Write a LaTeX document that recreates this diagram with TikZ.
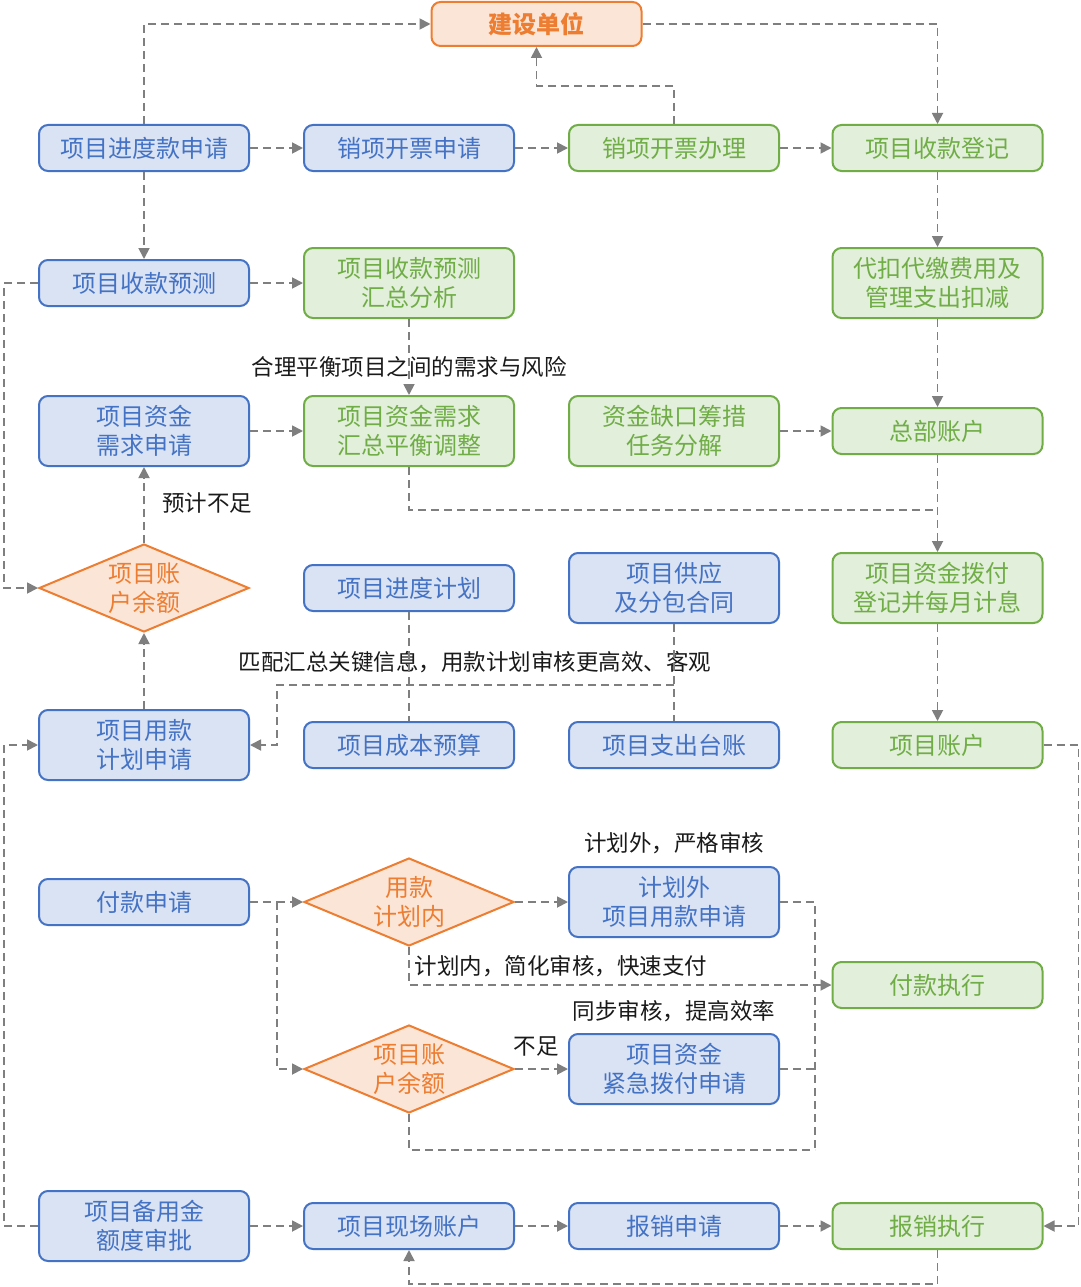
\documentclass[tikz,border=0pt]{standalone}
\usepackage{fontspec}
\setmainfont{Noto Sans CJK SC}
\usetikzlibrary{shapes.geometric,arrows.meta,calc}
\definecolor{bline}{HTML}{4472C4}
\definecolor{bfill}{HTML}{DAE3F3}
\definecolor{gline}{HTML}{70AD47}
\definecolor{gfill}{HTML}{E2EFDA}
\definecolor{oline}{HTML}{ED7D31}
\definecolor{ofill}{HTML}{FBE5D6}
\definecolor{agray}{HTML}{7F7F7F}
\definecolor{ltext}{HTML}{1A1A1A}
\tikzset{
  box/.style={rounded corners=9pt, line width=2pt, align=center, inner sep=0pt,
    minimum width=210pt, font=\fontsize{24}{29}\selectfont},
  bbox/.style={box, draw=bline, fill=bfill, text=bline},
  gbox/.style={box, draw=gline, fill=gfill, text=gline},
  obox/.style={box, draw=oline, fill=ofill, text=oline},
  lowbox/.style={minimum height=46pt},
  tallbox/.style={minimum height=70pt},
  dia/.style={diamond, aspect=2.4, draw=oline, fill=ofill, text=oline, line width=2pt, inner sep=0pt,
    minimum width=210pt, minimum height=88pt, align=center, font=\fontsize{24}{29}\selectfont},
  lab/.style={text=ltext, inner sep=0pt, font=\fontsize{22.5}{27}\selectfont},
  dl/.style={draw=agray, line width=1.8pt, dash pattern=on 8pt off 5pt},
  arr/.style={dl, -{Triangle[length=11pt,width=11pt]}},
}
\begin{document}
\begin{tikzpicture}[x=1pt,y=-1pt]
\useasboundingbox[fill=white] (0,0) rectangle (1080,1287);
% top
\node[obox, minimum height=44pt, font=\fontsize{24}{29}\selectfont\bfseries] (jsdw) at (536.5,24) {建设单位};
% row 1
\node[bbox, lowbox] (a1) at (144,148) {项目进度款申请};
\node[bbox, lowbox] (a2) at (409,148) {销项开票申请};
\node[gbox, lowbox] (a3) at (674,148) {销项开票办理};
\node[gbox, lowbox] (a4) at (937.5,148) {项目收款登记};
% row 2
\node[bbox, lowbox] (b1) at (144,283) {项目收款预测};
\node[gbox, tallbox] (b2) at (409,283) {项目收款预测\\汇总分析};
\node[gbox, tallbox] (b4) at (937.5,283) {代扣代缴费用及\\管理支出扣减};
\node[lab] (l1) at (409,367) {合理平衡项目之间的需求与风险};
% row 3
\node[bbox, tallbox] (c1) at (144,431) {项目资金\\需求申请};
\node[gbox, tallbox] (c2) at (409,431) {项目资金需求\\汇总平衡调整};
\node[gbox, tallbox] (c3) at (674,431) {资金缺口筹措\\任务分解};
\node[gbox, lowbox] (c4) at (937.5,431) {总部账户};
\node[lab] (l2) at (207,503) {预计不足};
% row 4
\node[dia] (d1) at (144,588) {项目账\\户余额};
\node[bbox, lowbox] (d2) at (409,588) {项目进度计划};
\node[bbox, tallbox] (d3) at (674,588) {项目供应\\及分包合同};
\node[gbox, tallbox] (d4) at (937.5,588) {项目资金拨付\\登记并每月计息};
\node[lab] (l3) at (475,662) {匹配汇总关键信息，用款计划审核更高效、客观};
% row 5
\node[bbox, tallbox] (e1) at (144,745) {项目用款\\计划申请};
\node[bbox, lowbox] (e2) at (409,745) {项目成本预算};
\node[bbox, lowbox] (e3) at (674,745) {项目支出台账};
\node[gbox, lowbox] (e4) at (937.5,745) {项目账户};
% payment block
\node[bbox, lowbox] (f1) at (144,902) {付款申请};
\node[dia] (f2) at (409,902) {用款\\计划内};
\node[lab] (l4) at (674,843) {计划外，严格审核};
\node[bbox, tallbox] (f3) at (674,902) {计划外\\项目用款申请};
\node[lab] (l5) at (561,966) {计划内，简化审核，快速支付};
\node[gbox, lowbox] (g4) at (937.5,985) {付款执行};
\node[lab] (l6) at (674,1011) {同步审核，提高效率};
\node[lab] (l7) at (536,1046) {不足};
\node[dia] (h2) at (409,1069) {项目账\\户余额};
\node[bbox, tallbox] (h3) at (674,1069) {项目资金\\紧急拨付申请};
% bottom row
\node[bbox, tallbox] (k1) at (144,1226) {项目备用金\\额度审批};
\node[bbox, lowbox] (k2) at (409,1226) {项目现场账户};
\node[bbox, lowbox] (k3) at (674,1226) {报销申请};
\node[gbox, lowbox] (k4) at (937.5,1226) {报销执行};
% helper coordinates
\coordinate (m1) at (937.5,510);
\coordinate (m2) at (674,685);
\coordinate (m2b) at (277,685);
\coordinate (m3) at (815,1150);
\coordinate (sp) at (277,902);
% connectors
\draw[arr] (a1.north) |- (jsdw.west);
\draw[arr] (jsdw.east) -| (a4.north);
\draw[arr] (a3.north) -- ++(0,-38) -| (jsdw.south);
\draw[arr] (a1.east) -- (a2.west);
\draw[arr] (a2.east) -- (a3.west);
\draw[arr] (a3.east) -- (a4.west);
\draw[arr] (a1.south) -- (b1.north);
\draw[arr] (b1.east) -- (b2.west);
\draw[arr] (b1.west) -- ++(-34,0) |- (d1.west);
\draw[arr] (b2.south) -- (c2.north);
\draw[arr] (c1.east) -- (c2.west);
\draw[arr] (a4.south) -- (b4.north);
\draw[arr] (b4.south) -- (c4.north);
\draw[arr] (c3.east) -- (c4.west);
\draw[arr] (c4.south) -- (d4.north);
\draw[dl] (c2.south) |- (m1);
\draw[arr] (d1.north) -- (c1.south);
\draw[arr] (e1.north) -- (d1.south);
\draw[dl] (d2.south) -- (e2.north);
\draw[dl] (d3.south) -- (e3.north);
\draw[arr] (m2) -- (m2b) |- (e1.east);
\draw[arr] (d4.south) -- (e4.north);
\draw[arr] (e4.east) -- ++(35,0) |- (k4.east);
\draw[dl] (f1.east) -- (sp);
\draw[arr] (sp) -- (f2.west);
\draw[arr] (sp) |- (h2.west);
\draw[arr] (f2.east) -- (f3.west);
\draw[arr] (f2.south) |- (g4.west);
\draw[dl] (f3.east) -| (m3);
\draw[dl] (h3.east) -- (h3.east -| m3);
\draw[dl] (h2.south) |- (m3);
\draw[arr] (h2.east) -- (h3.west);
\draw[arr] (k1.west) -- ++(-34,0) |- (e1.west);
\draw[arr] (k1.east) -- (k2.west);
\draw[arr] (k2.east) -- (k3.west);
\draw[arr] (k3.east) -- (k4.west);
\draw[arr] (k4.south) -- ++(0,34) -| (k2.south);
\end{tikzpicture}
\end{document}
